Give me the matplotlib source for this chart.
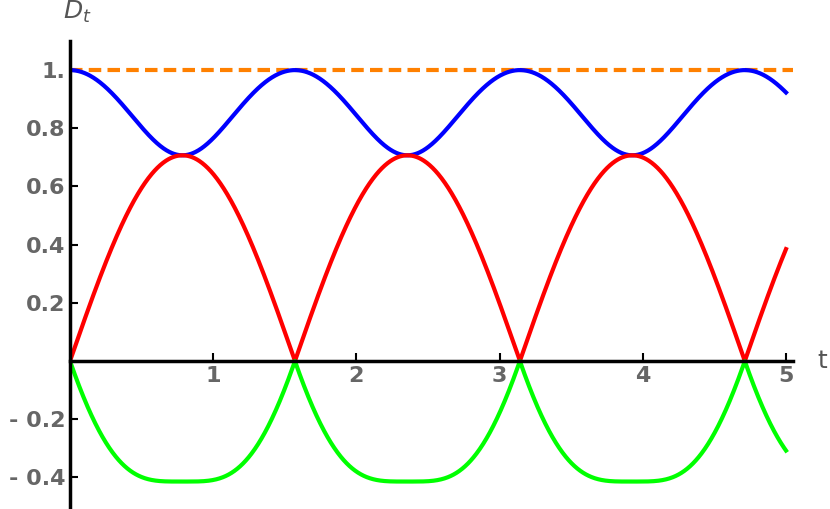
import numpy as np
import matplotlib.pyplot as plt

# function plot: the curves are analytic in t
t = np.linspace(0, 5, 1500)
red = np.abs(np.sin(2 * t)) / np.sqrt(2)
blue = np.sqrt(np.cos(2 * t) ** 2 + np.sin(2 * t) ** 2 / 2)
green = 1 - blue - red
ref_level = 1.0

xticks = [1, 2, 3, 4, 5]
xlabels = ["1", "2", "3", "4", "5"]
yticks = [-0.4, -0.2, 0.2, 0.4, 0.6, 0.8, 1.0]
ylabels = ["- 0.4", "- 0.2", "0.2", "0.4", "0.6", "0.8", "1."]

fig = plt.figure(figsize=(8.30, 5.09), dpi=100)
x0, x1 = 0.0, 5.05
y0, y1 = -0.5, 1.1
px_per_x = (786 - 70) / 5
left = 70 / 830
width = (x1 - x0) * px_per_x / 830
ax = fig.add_axes([left, (509 - 506.5) / 509, width, 465.5 / 509])

ax.axhline(ref_level, color=(1, 0.5, 0), lw=3, ls=(0, (3, 1.5)), zorder=1)
ax.plot(t, blue, color=(0, 0, 1), lw=3)
ax.plot(t, red, color=(1, 0, 0), lw=3)
ax.plot(t, green, color=(0, 1, 0), lw=3)

ax.set_xlim(x0, x1)
ax.set_ylim(y0, y1)
for s in ["top", "right"]:
    ax.spines[s].set_visible(False)
ax.spines["left"].set_position(("data", 0))
ax.spines["bottom"].set_position(("data", 0))
ax.spines["left"].set_linewidth(2.5)
ax.spines["bottom"].set_linewidth(2.5)
ax.set_xticks(xticks, xlabels)
ax.set_yticks(yticks, ylabels)
ax.tick_params(direction="in", length=6, width=1.5, colors="black", labelcolor="#666666",
               labelsize=16)
for lab in ax.get_xticklabels() + ax.get_yticklabels():
    lab.set_fontweight("bold")
ax.text(-0.05, 1.2, r"$D_t$", fontsize=18, color="#555555", ha="left", va="center",
        clip_on=False)
ax.text(5.25, 0.0, "t", fontsize=18, color="#555555", ha="center", va="center", clip_on=False)

fig.savefig("out.png", dpi=100)
